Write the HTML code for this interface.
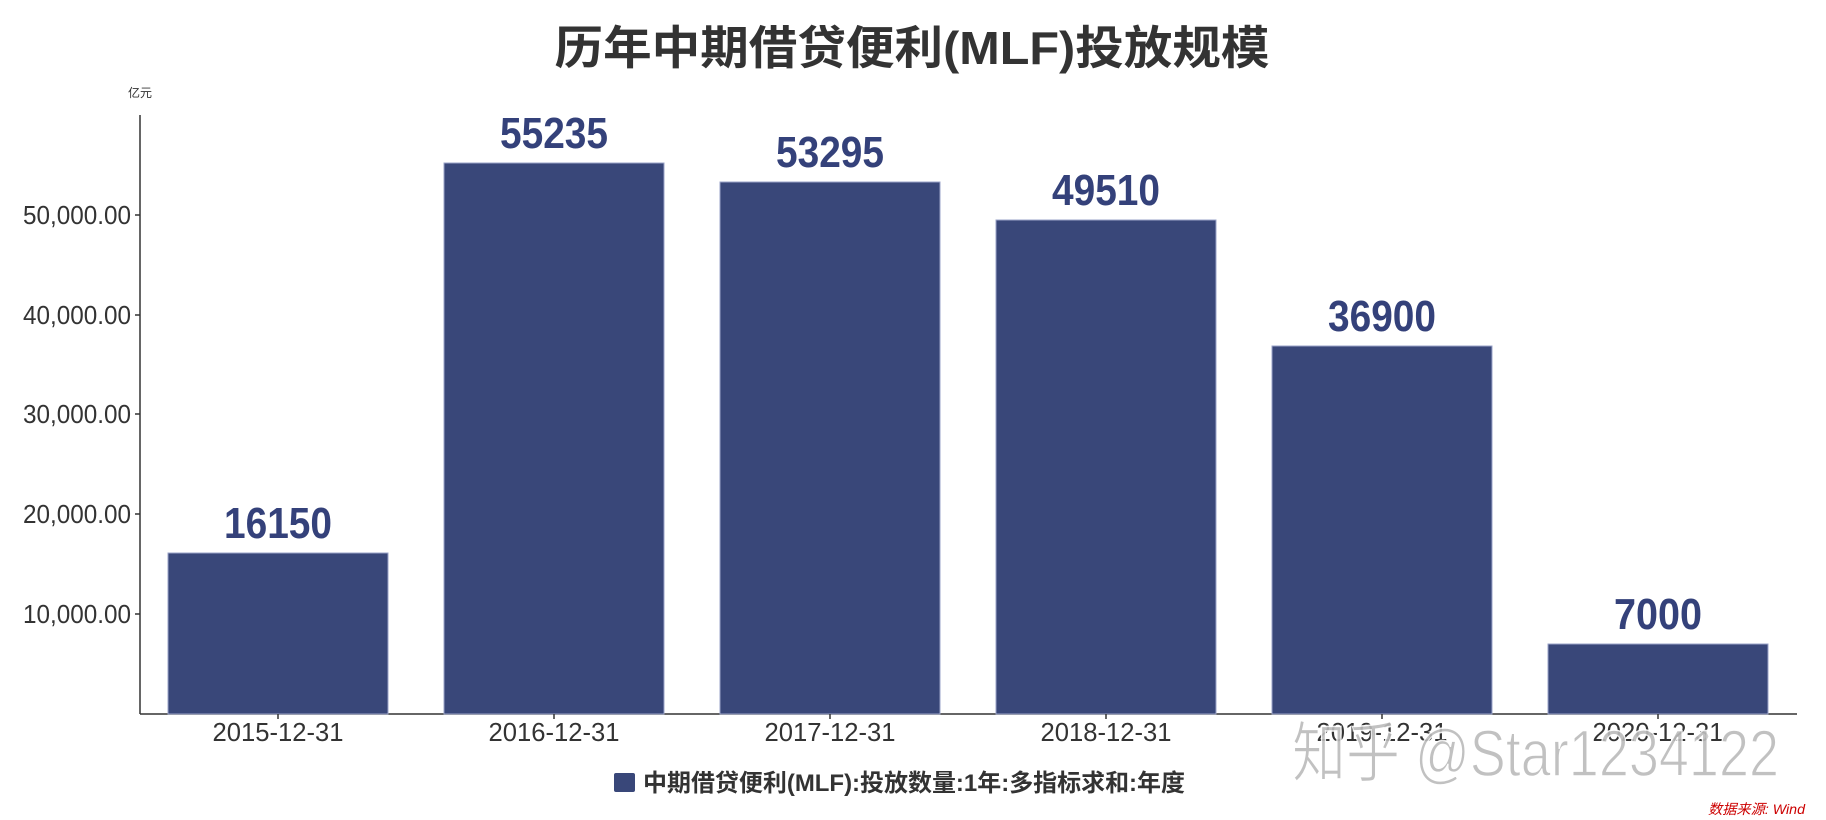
<!DOCTYPE html>
<html><head><meta charset="utf-8"><style>
html,body{margin:0;padding:0;background:#fff;}
svg{display:block;}
text{font-family:"Liberation Sans","Noto Sans CJK SC",sans-serif;}
</style></head><body>
<svg width="1826" height="820" viewBox="0 0 1826 820" xmlns="http://www.w3.org/2000/svg">
<text x="912" y="64" text-anchor="middle" font-size="46" font-weight="bold" fill="#333" textLength="715" lengthAdjust="spacingAndGlyphs">历年中期借贷便利(MLF)投放规模</text>
<text x="140" y="97" text-anchor="middle" font-size="12" fill="#333">亿元</text>
<g stroke="#333" stroke-width="1.5">
<line x1="140" y1="115" x2="140" y2="714"/>
<line x1="140" y1="714" x2="1797" y2="714"/>
<line x1="135" y1="215" x2="140" y2="215"/>
<line x1="135" y1="315" x2="140" y2="315"/>
<line x1="135" y1="414" x2="140" y2="414"/>
<line x1="135" y1="514" x2="140" y2="514"/>
<line x1="135" y1="614" x2="140" y2="614"/>
</g>
<g font-size="26" fill="#333" text-anchor="end">
<text x="131" y="224" textLength="108" lengthAdjust="spacingAndGlyphs">50,000.00</text>
<text x="131" y="324" textLength="108" lengthAdjust="spacingAndGlyphs">40,000.00</text>
<text x="131" y="423" textLength="108" lengthAdjust="spacingAndGlyphs">30,000.00</text>
<text x="131" y="523" textLength="108" lengthAdjust="spacingAndGlyphs">20,000.00</text>
<text x="131" y="623" textLength="108" lengthAdjust="spacingAndGlyphs">10,000.00</text>
</g>
<g fill="#394779" stroke="#9aa3c8" stroke-width="1">
<rect x="168" y="553" width="220" height="161"/>
<rect x="444" y="163" width="220" height="551"/>
<rect x="720" y="182" width="220" height="532"/>
<rect x="996" y="220" width="220" height="494"/>
<rect x="1272" y="346" width="220" height="368"/>
<rect x="1548" y="644" width="220" height="70"/>
</g>
<g stroke="#333" stroke-width="1.5">
<line x1="278" y1="714" x2="278" y2="719"/><line x1="554" y1="714" x2="554" y2="719"/>
<line x1="830" y1="714" x2="830" y2="719"/><line x1="1106" y1="714" x2="1106" y2="719"/>
<line x1="1382" y1="714" x2="1382" y2="719"/><line x1="1658" y1="714" x2="1658" y2="719"/>
</g>
<g font-size="44" font-weight="bold" fill="#34417a" text-anchor="middle">
<text x="278" y="538" textLength="108" lengthAdjust="spacingAndGlyphs">16150</text>
<text x="554" y="148" textLength="108" lengthAdjust="spacingAndGlyphs">55235</text>
<text x="830" y="167" textLength="108" lengthAdjust="spacingAndGlyphs">53295</text>
<text x="1106" y="205" textLength="108" lengthAdjust="spacingAndGlyphs">49510</text>
<text x="1382" y="331" textLength="108" lengthAdjust="spacingAndGlyphs">36900</text>
<text x="1658" y="629" textLength="88" lengthAdjust="spacingAndGlyphs">7000</text>
</g>
<g font-size="26" fill="#333" text-anchor="middle">
<text x="278" y="741" textLength="131" lengthAdjust="spacingAndGlyphs">2015-12-31</text>
<text x="554" y="741" textLength="131" lengthAdjust="spacingAndGlyphs">2016-12-31</text>
<text x="830" y="741" textLength="131" lengthAdjust="spacingAndGlyphs">2017-12-31</text>
<text x="1106" y="741" textLength="131" lengthAdjust="spacingAndGlyphs">2018-12-31</text>
<text x="1382" y="741" textLength="131" lengthAdjust="spacingAndGlyphs">2019-12-31</text>
<text x="1658" y="741" textLength="131" lengthAdjust="spacingAndGlyphs">2020-12-31</text>
</g>
<text x="1292" y="776" font-size="66" fill="#bbb" stroke="#fff" stroke-width="1.5" opacity="0.9" textLength="487" lengthAdjust="spacingAndGlyphs">知乎 @Star1234122</text>
<rect x="614" y="773" width="21" height="19" rx="2" fill="#394779"/>
<text x="643" y="791" font-size="24" font-weight="bold" fill="#333" textLength="542" lengthAdjust="spacingAndGlyphs">中期借贷便利(MLF):投放数量:1年:多指标求和:年度</text>
<text x="1708" y="814" font-size="14" font-style="italic" fill="#c00" textLength="97" lengthAdjust="spacingAndGlyphs">数据来源: Wind</text>
</svg>
</body></html>
